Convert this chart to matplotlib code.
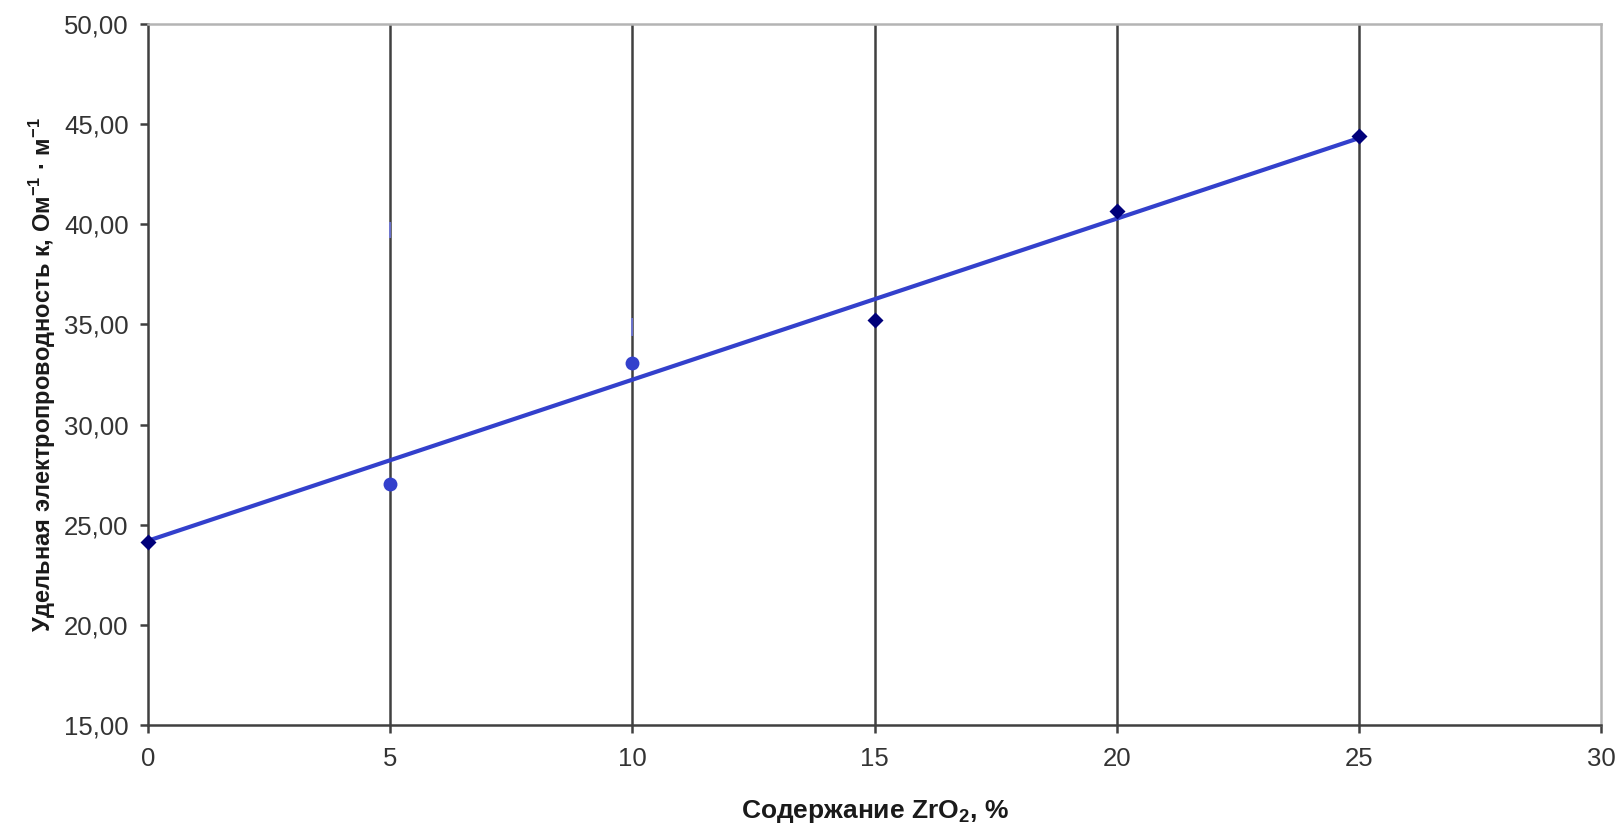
import matplotlib
matplotlib.use("Agg")
import matplotlib.pyplot as plt

plt.rcParams['font.family'] = ['Liberation Sans', 'DejaVu Sans']
plt.rcParams['mathtext.fontset'] = 'custom'
plt.rcParams['mathtext.rm'] = 'Liberation Sans:bold'
plt.rcParams['mathtext.bf'] = 'Liberation Sans:bold'

# Data
x_diamond = [0, 15, 20, 25]
y_diamond = [24.15, 35.2, 40.65, 44.4]
x_circle = [5, 10]
y_circle = [27.05, 33.05]
trend_x = [0, 25]
trend_y = [24.2, 44.3]
mark_x = [5, 10]
mark_lo = [39.3, 34.4]
mark_hi = [40.1, 35.3]

x_ticks = [0, 5, 10, 15, 20, 25, 30]
y_ticks = [15, 20, 25, 30, 35, 40, 45, 50]
y_ticklabels = ["15,00", "20,00", "25,00", "30,00", "35,00", "40,00", "45,00", "50,00"]

fig = plt.figure(figsize=(16.2, 8.27), dpi=100)
ax = fig.add_axes([148/1620, 1-725/827, (1601-148)/1620, (725-24)/827])

line_blue = '#3340cc'
navy = '#00007a'

for xv in x_ticks[1:-1]:
    ax.axvline(xv, color='#404040', lw=1.8, zorder=1)

ax.vlines(mark_x, mark_lo, mark_hi, color='#6f78e0', lw=1.2, zorder=2)
ax.plot(trend_x, trend_y, color=line_blue, lw=3.0, zorder=3, solid_capstyle='butt')
ax.plot(x_circle, y_circle, 'o', color=line_blue, ms=10, zorder=4, mec='none', clip_on=False)
ax.plot(x_diamond, y_diamond, 'D', color=navy, ms=8.5, zorder=5, mec='none', clip_on=False)

ax.set_xlim(0, 30)
ax.set_ylim(15, 50)
ax.set_xticks(x_ticks)
ax.set_xticklabels([str(v) for v in x_ticks])
ax.set_yticks(y_ticks)
ax.set_yticklabels(y_ticklabels)

for s in ['left', 'bottom']:
    ax.spines[s].set_color('#404040')
    ax.spines[s].set_linewidth(1.8)
for s in ['top', 'right']:
    ax.spines[s].set_color('#b4b4b4')
    ax.spines[s].set_linewidth(1.8)

ax.tick_params(axis='both', direction='out', length=6, width=1.8, color='#404040',
               labelsize=18.5, labelcolor='#333333')
ax.tick_params(axis='y', pad=8)
ax.tick_params(axis='x', pad=10)

ax.set_xlabel('Содержание ZrO$_2$, %', fontsize=19, fontweight='bold', color='#1a1a1a', labelpad=19)
ax.set_ylabel('Удельная электропроводность к, Ом$^{-1}$ · м$^{-1}$', fontsize=17,
              fontweight='bold', color='#1a1a1a', labelpad=4)

fig.savefig('out.png', dpi=100)
